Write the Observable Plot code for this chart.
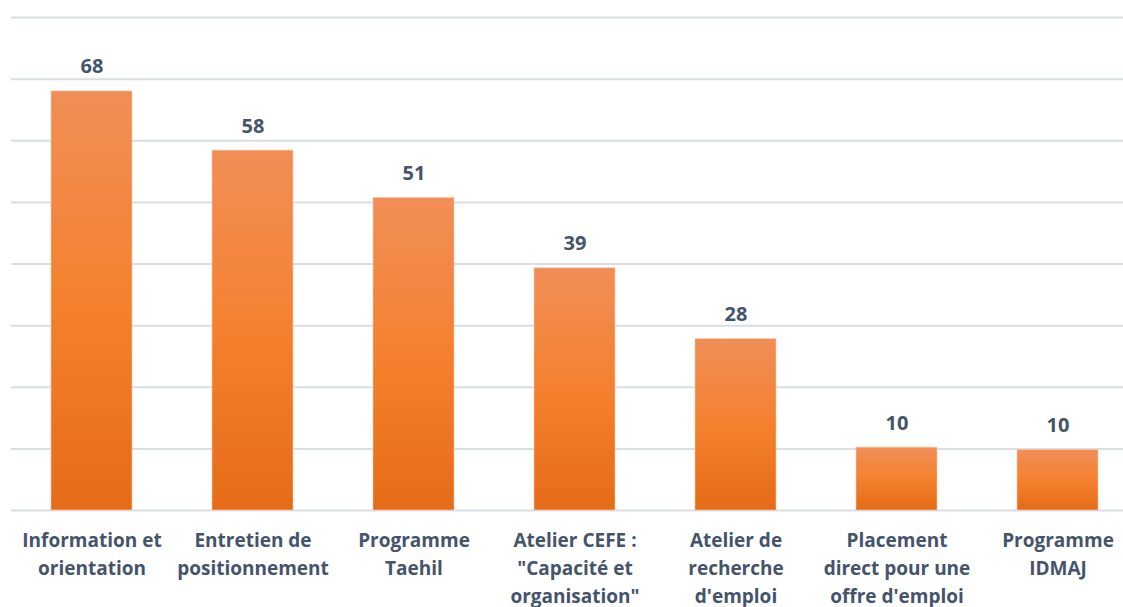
<!DOCTYPE html>
<html>
<head>
<meta charset="utf-8">
<script src="https://cdn.jsdelivr.net/npm/d3@7"></script>
<script src="https://cdn.jsdelivr.net/npm/@observablehq/plot@0.6"></script>
<style>
  html, body { margin: 0; padding: 0; background: #fff; overflow: hidden; }
  #chart svg { display: block; }
</style>
</head>
<body>
<div id="chart"></div>
<script>
const categories = [
  "Information et\norientation",
  "Entretien de\npositionnement",
  "Programme\nTaehil",
  "Atelier CEFE :\n\"Capacité et\norganisation\"",
  "Atelier de\nrecherche\nd'emploi",
  "Placement\ndirect pour une\noffre d'emploi",
  "Programme\nIDMAJ"
];
const values = [68, 58.4, 50.7, 39.3, 27.8, 10.2, 9.8];
const yTicks = [0, 10, 20, 30, 40, 50, 60, 70, 80];

const data = categories.map((c, i) => ({cat: c, value: values[i]}));

const textColor = "#44546A";
const font = "'Open Sans', Lato, sans-serif";

const chart = Plot.plot({
  width: 1123,
  height: 607,
  marginTop: 17,
  marginBottom: 97,
  marginLeft: 11,
  marginRight: -15,
  style: {fontFamily: font, background: "#fff"},
  x: {domain: categories, paddingInner: 0.5, paddingOuter: 0.25, axis: null},
  y: {domain: [0, 80], axis: null},
  marks: [
    Plot.ruleY(yTicks, {stroke: "#D9DEE5", strokeWidth: 2}),
    Plot.barY(data, {x: "cat", y: "value", fill: "url(#barGrad)", stroke: "#F9C9A8", strokeWidth: 0.6}),
    Plot.text(data, {
      x: "cat", y: "value", text: d => d3.format(".0f")(d.value),
      dy: -18, lineAnchor: "bottom", fontSize: 20, fontWeight: 700, fill: textColor
    }),
    Plot.text(data, {
      x: "cat", y: 0, text: "cat",
      dy: 17, lineAnchor: "top", lineHeight: 1.47, fontSize: 19, fontWeight: 700, fill: textColor
    })
  ]
});

const defs = d3.select(chart).insert("defs", ":first-child");
const grad = defs.append("linearGradient")
  .attr("id", "barGrad")
  .attr("x1", 0).attr("y1", 0).attr("x2", 0).attr("y2", 1);
grad.append("stop").attr("offset", "0%").attr("stop-color", "#F18E57");
grad.append("stop").attr("offset", "50%").attr("stop-color", "#F4812F");
grad.append("stop").attr("offset", "100%").attr("stop-color", "#E56B18");

document.getElementById("chart").appendChild(chart);
</script>
</body>
</html>
